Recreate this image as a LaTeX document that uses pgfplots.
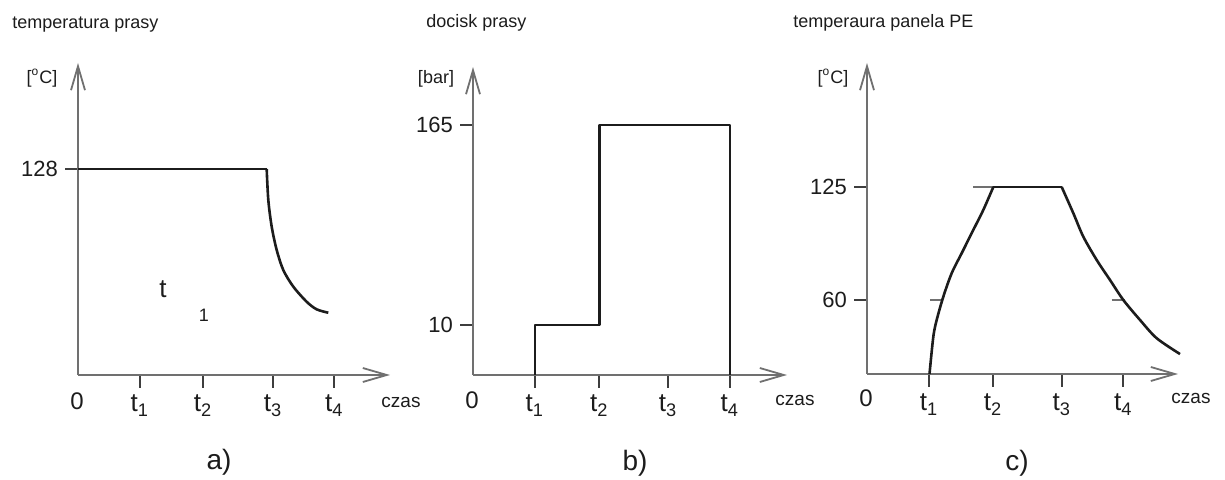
\documentclass[border=0pt]{standalone}
\usepackage{fontspec}
\setmainfont{Liberation Sans}
\usepackage{pgfplots}
\pgfplotsset{compat=1.18}
\usetikzlibrary{arrows.meta}
\definecolor{axgray}{HTML}{707070}
\definecolor{ink}{HTML}{1C1C1C}
\newcommand\fs[1]{\fontsize{#1}{#1}\selectfont}

\pgfplotsset{
  schem/.style={
    scale only axis, clip=false,
    axis lines=left,
    axis line style={axgray, line width=1pt},
    x axis line style={-{Straight Barb[length=12pt,width=7pt,line width=0.9pt]}},
    y axis line style={-{Straight Barb[length=12pt,width=7pt,line width=0.9pt]}},
    xmin=0,
    tick align=outside,
    major tick length=6.5pt,
    tick style={ink!85, line width=1.1pt},
    xticklabel style={font=\fs{13}, text=ink},
    yticklabel style={font=\fs{11}, text=ink},
    minor tick num=0,
  },
  curve/.style={ink, line width=1.3pt, line join=round, no markers},
  pin/.style={axgray, line width=1pt, no markers},
}

\begin{document}
\begin{tikzpicture}[x=0.5pt, y=0.5pt]
\path[use as bounding box] (0,0) rectangle (1225,480);

% a) temperatura prasy
\begin{axis}[schem, at={(39pt,52.5pt)}, anchor=south west,
  width=156pt, height=156pt,
  xmax=4.992, ymin=0, ymax=193.9,
  xtick={0.99,2.0,3.12,4.10},
  xticklabels={t\textsubscript{1},t\textsubscript{2},t\textsubscript{3},t\textsubscript{4}},
  ytick={128}, yticklabels={128}]
\addplot[curve] coordinates {(0,128) (3.019,128)};
\addplot[curve, smooth] coordinates {
  (3.019,128) (3.045,108.7) (3.099,92.2) (3.179,77.7) (3.285,65.2)
  (3.445,54.9) (3.659,45.5) (3.819,40.8) (4.005,38.7)};
\end{axis}

% b) docisk prasy (piecewise scale: 10 bar low, 165 bar high)
\begin{axis}[schem, at={(236.5pt,52.5pt)}, anchor=south west,
  width=157pt, height=154pt,
  y coord trafo/.code={\pgfmathparse{5*min(#1,10)+1.290323*max(#1-10,0)}},
  xmax=5.024, ymin=0, ymax=210,
  xtick={0.99,2.02,3.12,4.11},
  xticklabels={t\textsubscript{1},t\textsubscript{2},t\textsubscript{3},t\textsubscript{4}},
  ytick={10,165}, yticklabels={10,165}]
\addplot[curve] coordinates {(0.99,0) (0.99,10) (2.02,10) (2.02,165) (4.11,165) (4.11,0)};
\end{axis}

% c) temperatura panela PE
\begin{axis}[schem, at={(433.5pt,53pt)}, anchor=south west,
  width=155.5pt, height=155.5pt,
  xmax=4.976, ymin=17.43, ymax=196.3,
  xtick={0.992,2.016,3.115,4.101},
  xticklabels={t\textsubscript{1},t\textsubscript{2},t\textsubscript{3},t\textsubscript{4}},
  ytick={60,125}, yticklabels={60,125}]
\addplot[pin] coordinates {(1.008,60) (1.221,60)};
\addplot[pin] coordinates {(1.696,125) (2.016,125)};
\addplot[pin] coordinates {(3.915,60) (4.13,60)};
\addplot[curve, smooth] coordinates {
  (1.0,17.43) (1.061,38.9) (1.115,48.5) (1.221,61.9) (1.355,75.4)
  (1.515,86.9) (1.701,100.3) (1.861,111.8) (2.021,125)};
\addplot[curve] coordinates {(2.021,125) (3.115,125)};
\addplot[curve, smooth] coordinates {
  (3.115,125) (3.301,109.9) (3.461,96.4) (3.675,83.0) (3.888,71.5)
  (4.101,60) (4.368,48.5) (4.635,38.0) (5.008,28.9)};
\end{axis}

% texts
\begin{scope}[every node/.style={text=ink, inner sep=0pt}]
\node[anchor=base west, font=\fs{9}] at (12,451) {temperatura prasy};
\node[anchor=base west, font=\fs{9}] at (426,452) {docisk prasy};
\node[anchor=base west, font=\fs{9}] at (793,452) {temperaura panela PE};
\node[font=\fs{9}] at (42,402) {[\textsuperscript{o}C]};
\node[font=\fs{9}] at (436,401) {[bar]};
\node[font=\fs{9}] at (833,402) {[\textsuperscript{o}C]};
\node[font=\fs{12}] at (77,79) {0};
\node[font=\fs{12}] at (472,80) {0};
\node[font=\fs{12}] at (866,82) {0};
\node[font=\fs{9.5}] at (401,78) {czas};
\node[font=\fs{9.5}] at (795,80) {czas};
\node[font=\fs{9.5}] at (1191,82) {czas};
\node[font=\fs{13}] at (163,191) {t};
\node[font=\fs{9}] at (204,165) {1};
\node[font=\fs{14}] at (219,18) {a)};
\node[font=\fs{14}] at (635,17) {b)};
\node[font=\fs{14}] at (1017,17) {c)};
\end{scope}
\end{tikzpicture}
\end{document}
